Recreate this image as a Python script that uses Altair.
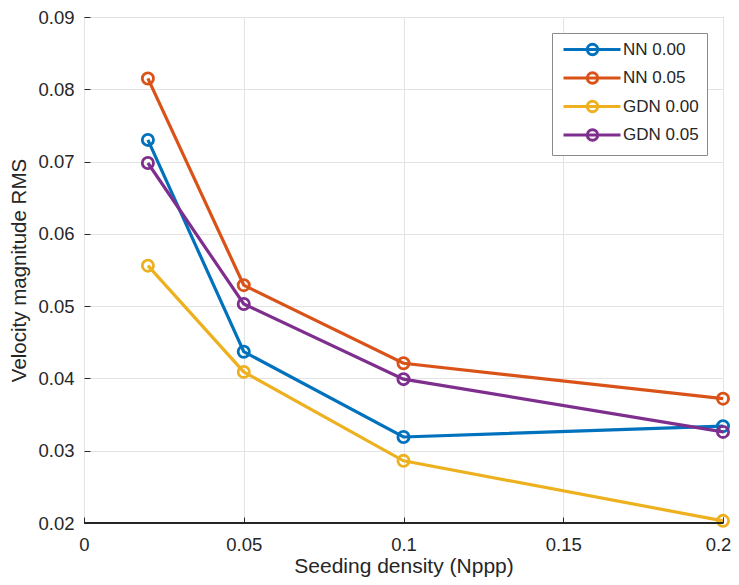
import altair as alt
import pandas as pd

# ---- data ----
x_vals = [0.02, 0.05, 0.1, 0.2]
series_names = ["NN 0.00", "NN 0.05", "GDN 0.00", "GDN 0.05"]
nn_000 = [0.0730, 0.0437, 0.0319, 0.0334]
nn_005 = [0.0815, 0.0529, 0.0421, 0.0372]
gdn_000 = [0.0556, 0.0409, 0.0286, 0.0203]
gdn_005 = [0.0698, 0.0503, 0.0399, 0.0326]
series_colors = ["#0072BD", "#D95319", "#EDB120", "#7E2F8E"]
x_ticks = [0, 0.05, 0.1, 0.15, 0.2]
y_ticks = [0.02, 0.03, 0.04, 0.05, 0.06, 0.07, 0.08, 0.09]
x_title = "Seeding density (Nppp)"
y_title = "Velocity magnitude RMS"

rows = []
for name, vals in zip(series_names, [nn_000, nn_005, gdn_000, gdn_005]):
    for xv, yv in zip(x_vals, vals):
        rows.append({"series": name, "x": xv, "y": yv})
df = pd.DataFrame(rows)

FONT = "Liberation Sans"
TXT = "#262626"

# legend glyph: a line with a hollow circle, starting at the symbol box's left
# edge (units = half the 8 px symbol box, i.e. 4 px)
legend_symbol = (
    "M-1.25,0L13.0,0M7.3,0A1.3,1.3,0,1,1,4.7,0A1.3,1.3,0,1,1,7.3,0Z"
)

color = alt.Color(
    "series:N",
    scale=alt.Scale(domain=series_names, range=series_colors),
    sort=series_names,
    legend=alt.Legend(
        title=None, orient="none", legendX=468, legendY=16,
        symbolType=legend_symbol, symbolSize=64, symbolStrokeWidth=3,
        symbolFillColor="transparent", symbolOffset=0,
        labelFont=FONT, labelFontSize=17, labelColor=TXT, labelOffset=46,
        padding=8, rowPadding=5.5, strokeColor="#8a8a8a", fillColor="white",
        cornerRadius=0,
    ),
)

x = alt.X(
    "x:Q",
    scale=alt.Scale(domain=[0, 0.2], nice=False, zero=False),
    axis=alt.Axis(
        values=x_ticks, format="~g", title=x_title, orient="bottom",
        offset=-6, tickSize=6, labelPadding=12, domain=False, grid=True,
        labelFlush=False, titlePadding=2, labelFontSize=18.5, titleFontSize=21,
        labelOffset={"condition": {"test": "datum.value >= 0.19", "value": -5},
                     "value": 0},
    ),
)
y = alt.Y(
    "y:Q",
    scale=alt.Scale(domain=[0.02, 0.09], nice=False, zero=False),
    axis=alt.Axis(
        values=y_ticks, format=".2f", title=y_title, orient="left",
        offset=-6, tickSize=6, labelPadding=10, domain=False, grid=True,
        labelFlush=False, titlePadding=8, labelFontSize=18.5, titleFontSize=20.5,
    ),
)

layers = []
for name in series_names:
    base = alt.Chart(df).transform_filter(alt.datum.series == name)
    layers.append(base.mark_line(strokeWidth=3.2).encode(x=x, y=y, color=color))
    layers.append(
        base.mark_point(filled=False, size=125, strokeWidth=2.8, opacity=1).encode(
            x=x, y=y, color=color
        )
    )

bottom_line = alt.Chart(df).mark_rule(color=TXT, strokeWidth=1).encode(
    y=alt.datum(0.02)
)

chart = (
    alt.layer(*layers, bottom_line)
    .properties(
        width=639,
        height=506,
        autosize=alt.AutoSizeParams(type="none"),
        padding={"left": 76, "top": 9, "right": 8, "bottom": 54},
        background="white",
    )
    .configure_view(stroke="#808080", strokeWidth=1)
    .configure_axis(
        labelFont=FONT, titleFont=FONT, labelColor=TXT, titleColor=TXT,
        titleFontWeight="normal", gridColor="#e3e3e3", gridWidth=1,
        tickColor=TXT, tickWidth=1,
    )
)

chart.save("out.html", embed_options={"renderer": "svg", "actions": False})
